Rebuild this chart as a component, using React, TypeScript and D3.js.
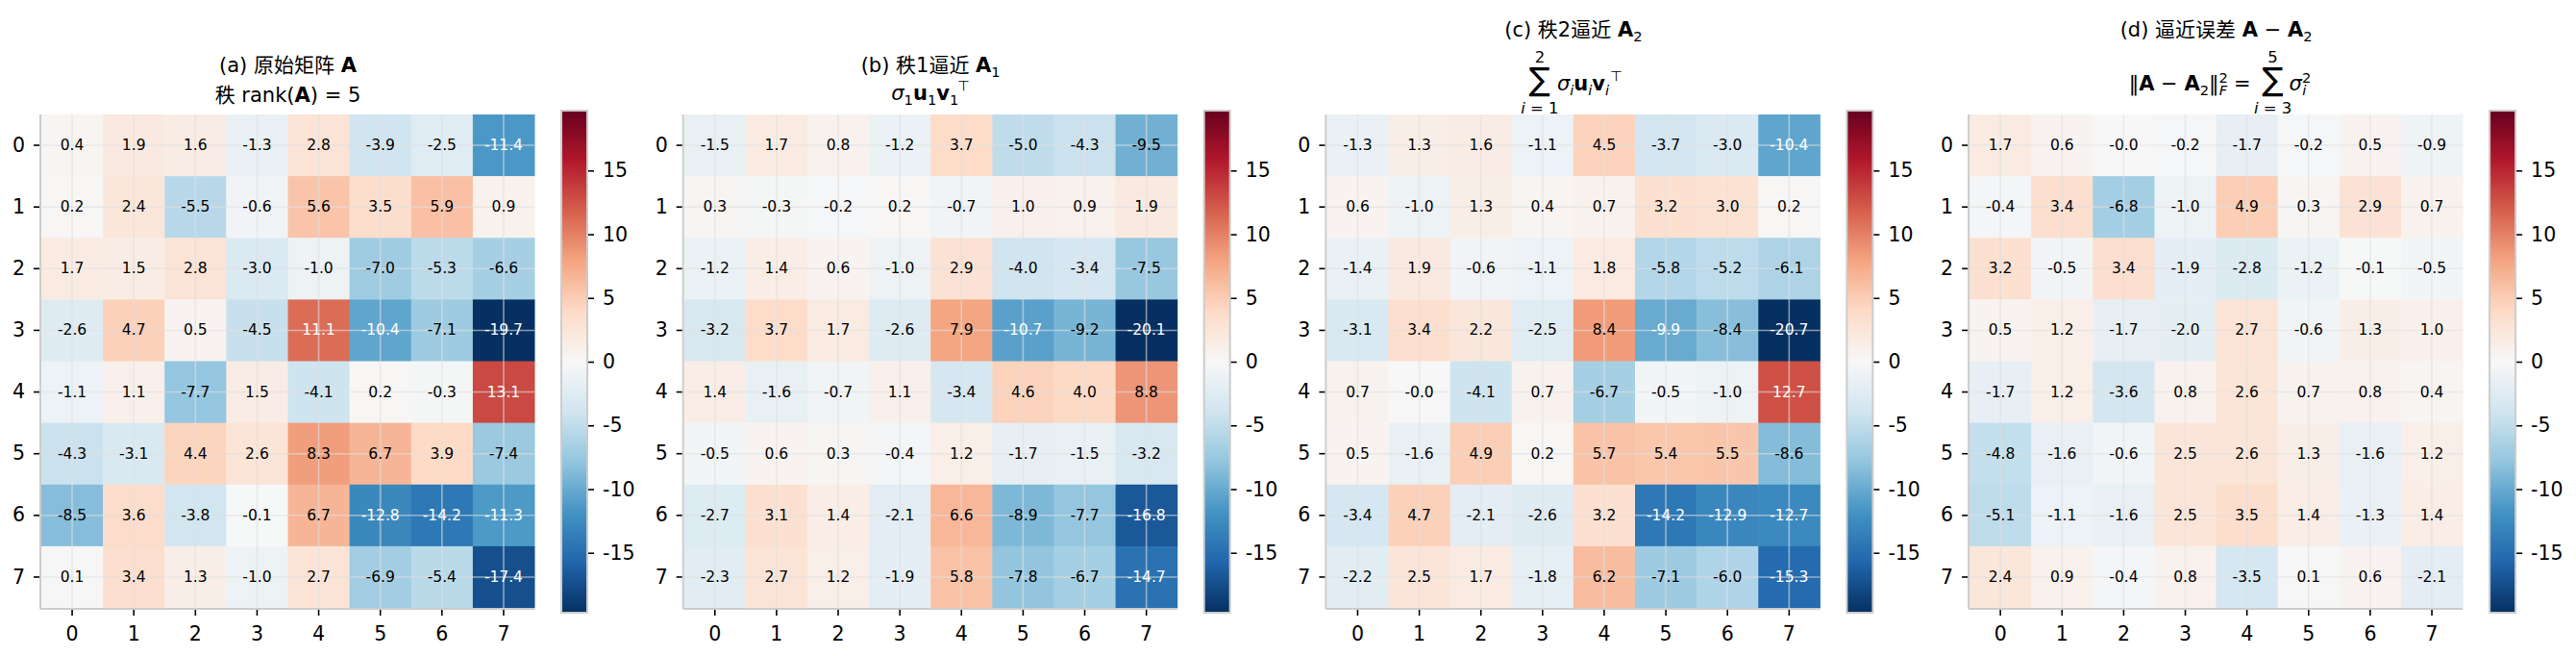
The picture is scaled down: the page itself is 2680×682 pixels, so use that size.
import * as React from "react";
import { useRef, useEffect } from "react";
import * as d3 from "d3";

// row / column indices and their tick labels
const idx = d3.range(8);
const tickLabels = ["0", "1", "2", "3", "4", "5", "6", "7"];
const cbarTicks = [-15, -10, -5, 0, 5, 10, 15];

// original matrix A
const matA = [
  [0.4, 1.9, 1.6, -1.3, 2.8, -3.9, -2.5, -11.4],
  [0.2, 2.4, -5.5, -0.6, 5.6, 3.5, 5.9, 0.9],
  [1.7, 1.5, 2.8, -3.0, -1.0, -7.0, -5.3, -6.6],
  [-2.6, 4.7, 0.5, -4.5, 11.1, -10.4, -7.1, -19.7],
  [-1.1, 1.1, -7.7, 1.5, -4.1, 0.2, -0.3, 13.1],
  [-4.3, -3.1, 4.4, 2.6, 8.3, 6.7, 3.9, -7.4],
  [-8.5, 3.6, -3.8, -0.1, 6.7, -12.8, -14.2, -11.3],
  [0.1, 3.4, 1.3, -1.0, 2.7, -6.9, -5.4, -17.4],
];

// rank-1 approximation
const matA1 = [
  [-1.5, 1.7, 0.8, -1.2, 3.7, -5.0, -4.3, -9.5],
  [0.3, -0.3, -0.2, 0.2, -0.7, 1.0, 0.9, 1.9],
  [-1.2, 1.4, 0.6, -1.0, 2.9, -4.0, -3.4, -7.5],
  [-3.2, 3.7, 1.7, -2.6, 7.9, -10.7, -9.2, -20.1],
  [1.4, -1.6, -0.7, 1.1, -3.4, 4.6, 4.0, 8.8],
  [-0.5, 0.6, 0.3, -0.4, 1.2, -1.7, -1.5, -3.2],
  [-2.7, 3.1, 1.4, -2.1, 6.6, -8.9, -7.7, -16.8],
  [-2.3, 2.7, 1.2, -1.9, 5.8, -7.8, -6.7, -14.7],
];

// rank-2 approximation
const matA2 = [
  [-1.3, 1.3, 1.6, -1.1, 4.5, -3.7, -3.0, -10.4],
  [0.6, -1.0, 1.3, 0.4, 0.7, 3.2, 3.0, 0.2],
  [-1.4, 1.9, -0.6, -1.1, 1.8, -5.8, -5.2, -6.1],
  [-3.1, 3.4, 2.2, -2.5, 8.4, -9.9, -8.4, -20.7],
  [0.7, -0.0, -4.1, 0.7, -6.7, -0.5, -1.0, 12.7],
  [0.5, -1.6, 4.9, 0.2, 5.7, 5.4, 5.5, -8.6],
  [-3.4, 4.7, -2.1, -2.6, 3.2, -14.2, -12.9, -12.7],
  [-2.2, 2.5, 1.7, -1.8, 6.2, -7.1, -6.0, -15.3],
];

// residual A - A2
const matErr = [
  [1.7, 0.6, -0.0, -0.2, -1.7, -0.2, 0.5, -0.9],
  [-0.4, 3.4, -6.8, -1.0, 4.9, 0.3, 2.9, 0.7],
  [3.2, -0.5, 3.4, -1.9, -2.8, -1.2, -0.1, -0.5],
  [0.5, 1.2, -1.7, -2.0, 2.7, -0.6, 1.3, 1.0],
  [-1.7, 1.2, -3.6, 0.8, 2.6, 0.7, 0.8, 0.4],
  [-4.8, -1.6, -0.6, 2.5, 2.6, 1.3, -1.6, 1.2],
  [-5.1, -1.1, -1.6, 2.5, 3.5, 1.4, -1.3, 1.4],
  [2.4, 0.9, -0.4, 0.8, -3.5, 0.1, 0.6, -2.1],
];

const VMAX = 19.7;
const VMIN = -19.7;

const FONT = "'DejaVu Sans', 'Noto Sans CJK SC', sans-serif";
const TITLE_SIZE = 21;
const SMALL = 14.7;
const LIMIT = 16.5;

const fmt = (v: number) => (Object.is(v, -0) ? "-0.0" : v.toFixed(1));

type Part = { t: string; b?: boolean; i?: boolean; s?: number; dx?: number; size?: number };

// writes a run of tspans, shifting baseline for sub/superscripts
function rich(sel: any, parts: Part[]) {
  let cur = 0;
  parts.forEach((p) => {
    const sh = p.s ?? 0;
    const ts = sel.append("tspan").text(p.t);
    if (sh !== cur) ts.attr("dy", sh - cur);
    cur = sh;
    if (p.b) ts.attr("font-weight", "bold");
    if (p.i) ts.attr("font-style", "italic");
    if (p.size || sh !== 0) ts.attr("font-size", p.size ?? SMALL);
    if (p.dx) ts.attr("dx", p.dx);
  });
}

const SUB = 5;
const SUP = -8;

export default function App() {
  const svgRef = useRef<SVGSVGElement>(null);

  useEffect(() => {
    const svg = d3.select(svgRef.current);
    svg.selectAll("*").remove();

    const scheme = d3.schemeRdBu[11].slice().reverse();
    const color = d3
      .scaleLinear<string>()
      .domain(d3.range(11).map((i) => VMIN + (i * (VMAX - VMIN)) / 10))
      .range(scheme)
      .interpolate(d3.interpolateRgb)
      .clamp(true);

    const grad = svg
      .append("defs")
      .append("linearGradient")
      .attr("id", "cbar-grad")
      .attr("x1", 0)
      .attr("y1", 1)
      .attr("x2", 0)
      .attr("y2", 0);
    scheme.forEach((c, i) => grad.append("stop").attr("offset", i / 10).attr("stop-color", c));

    const matrices = [matA, matA1, matA2, matErr];
    const size = 513;
    const top = 119;
    const step = 668.7;
    const cbTop = 115;
    const cbBottom = 637;

    matrices.forEach((mat, pi) => {
      const x0 = 43 + pi * step;
      const cx = x0 + size / 2;
      const g = svg.append("g").attr("transform", `translate(${x0},${top})`);

      const x = d3.scaleBand<number>().domain(idx).range([0, size]);
      const y = d3.scaleBand<number>().domain(idx).range([0, size]);
      const cells = mat.flatMap((row, r) => row.map((v, c) => ({ r, c, v })));

      // heatmap cells
      g.selectAll("rect.cell")
        .data(cells)
        .join("rect")
        .attr("class", "cell")
        .attr("x", (d) => x(d.c)!)
        .attr("y", (d) => y(d.r)!)
        .attr("width", x.bandwidth() + 0.5)
        .attr("height", y.bandwidth() + 0.5)
        .attr("fill", (d) => color(d.v));

      // grid lines through cell centres
      const half = x.bandwidth() / 2;
      g.selectAll("line.vgrid")
        .data(idx)
        .join("line")
        .attr("x1", (d) => x(d)! + half)
        .attr("x2", (d) => x(d)! + half)
        .attr("y1", 0)
        .attr("y2", size)
        .attr("stroke", "#e0e0e0")
        .attr("stroke-opacity", 0.6)
        .attr("stroke-width", 1.6);
      g.selectAll("line.hgrid")
        .data(idx)
        .join("line")
        .attr("y1", (d) => y(d)! + half)
        .attr("y2", (d) => y(d)! + half)
        .attr("x1", 0)
        .attr("x2", size)
        .attr("stroke", "#e0e0e0")
        .attr("stroke-opacity", 0.6)
        .attr("stroke-width", 1.6);

      // value labels
      g.selectAll("text.val")
        .data(cells)
        .join("text")
        .attr("x", (d) => x(d.c)! + half)
        .attr("y", (d) => y(d.r)! + half)
        .attr("text-anchor", "middle")
        .attr("dominant-baseline", "central")
        .attr("font-family", FONT)
        .attr("font-size", 15.5)
        .attr("fill", (d) => (Math.abs(d.v) > VMAX * 0.5 ? "#ffffff" : "#000000"))
        .text((d) => fmt(d.v));

      // left and bottom spines
      g.append("line")
        .attr("x1", -1).attr("x2", -1).attr("y1", 0).attr("y2", size + 1)
        .attr("stroke", "#cccccc").attr("stroke-width", 2);
      g.append("line")
        .attr("x1", -1).attr("x2", size).attr("y1", size + 1).attr("y2", size + 1)
        .attr("stroke", "#cccccc").attr("stroke-width", 2);

      const styleAxis = (a: any) => {
        a.select(".domain").remove();
        a.attr("font-family", FONT).attr("font-size", 20.5);
        a.selectAll(".tick line").attr("stroke", "#000").attr("stroke-width", 1.6);
        a.selectAll(".tick text").attr("fill", "#000");
      };

      g.append("g")
        .attr("transform", "translate(-2,0)")
        .call(d3.axisLeft(y).tickSize(6).tickPadding(9).tickFormat((d) => tickLabels[d]))
        .call(styleAxis);
      g.append("g")
        .attr("transform", `translate(0,${size + 2})`)
        .call(d3.axisBottom(x).tickSize(6).tickPadding(11).tickFormat((d) => tickLabels[d]))
        .call(styleAxis);

      // colour bar
      const cbX = x0 + 541;
      const cbW = 27;
      svg.append("rect")
        .attr("x", cbX).attr("y", cbTop).attr("width", cbW).attr("height", cbBottom - cbTop)
        .attr("fill", "url(#cbar-grad)")
        .attr("stroke", "#cccccc").attr("stroke-width", 2);
      const cb = d3.scaleLinear().domain([VMIN, VMAX]).range([cbBottom, cbTop]);
      svg.append("g")
        .attr("transform", `translate(${cbX + cbW + 1},0)`)
        .call(d3.axisRight(cb).tickValues(cbarTicks).tickSize(6).tickPadding(9).tickFormat((d) => String(d)))
        .call(styleAxis);

      // titles
      const title = (yy: number) =>
        svg.append("text")
          .attr("x", cx).attr("y", yy)
          .attr("text-anchor", "middle")
          .attr("font-family", FONT)
          .attr("font-size", TITLE_SIZE)
          .attr("fill", "#000");
      const sumSign = (sx: number, upper: string, lower: Part[]) => {
        svg.append("text")
          .attr("x", sx).attr("y", 94)
          .attr("text-anchor", "middle")
          .attr("font-family", FONT).attr("font-size", 33)
          .text("\u2211");
        svg.append("text")
          .attr("x", sx).attr("y", 65)
          .attr("text-anchor", "middle")
          .attr("font-family", FONT).attr("font-size", LIMIT)
          .text(upper);
        const lo = svg.append("text")
          .attr("x", sx).attr("y", 118)
          .attr("text-anchor", "middle")
          .attr("font-family", FONT).attr("font-size", LIMIT);
        rich(lo, lower);
      };

      if (pi === 0) {
        rich(title(75), [{ t: "(a) 原始矩阵 " }, { t: "A", b: true }]);
        rich(title(106), [{ t: "秩 rank(" }, { t: "A", b: true }, { t: ") = 5" }]);
      } else if (pi === 1) {
        rich(title(75), [{ t: "(b) 秩1逼近 " }, { t: "A", b: true }, { t: "1", s: SUB }]);
        rich(title(104), [
          { t: "σ", i: true }, { t: "1", s: SUB },
          { t: "u", b: true }, { t: "1", s: SUB },
          { t: "v", b: true }, { t: "1", s: SUB },
          { t: "⊤", s: SUP - 2, dx: -1 },
        ]);
      } else if (pi === 2) {
        rich(title(38), [{ t: "(c) 秩2逼近 " }, { t: "A", b: true }, { t: "2", s: SUB }]);
        sumSign(cx - 35, "2", [{ t: "i", i: true, size: LIMIT }, { t: " = 1", size: LIMIT }]);
        rich(title(94).attr("text-anchor", "start").attr("x", cx - 17), [
          { t: "σ", i: true }, { t: "i", i: true, s: SUB },
          { t: "u", b: true }, { t: "i", i: true, s: SUB },
          { t: "v", b: true }, { t: "i", i: true, s: SUB },
          { t: "⊤", s: SUP - 2, dx: 1 },
        ]);
      } else {
        rich(title(38), [
          { t: "(d) 逼近误差 " }, { t: "A", b: true }, { t: " − " },
          { t: "A", b: true }, { t: "2", s: SUB },
        ]);
        rich(title(94).attr("text-anchor", "end").attr("x", cx + 36), [
          { t: "‖" }, { t: "A", b: true }, { t: " − " }, { t: "A", b: true },
          { t: "2", s: SUB }, { t: "‖" }, { t: "2", s: SUP },
          { t: "F", i: true, s: SUB, dx: -9 }, { t: " =" },
        ]);
        sumSign(cx + 59, "5", [{ t: "i", i: true, size: LIMIT }, { t: " = 3", size: LIMIT }]);
        rich(title(94).attr("text-anchor", "start").attr("x", cx + 76), [
          { t: "σ", i: true }, { t: "2", s: SUP }, { t: "i", i: true, s: SUB, dx: -9 },
        ]);
      }
    });
  }, []);

  return (
    <svg
      ref={svgRef}
      width={2680}
      height={682}
      style={{ position: "absolute", left: 0, top: 0, display: "block", background: "#ffffff" }}
    ></svg>
  );
}
